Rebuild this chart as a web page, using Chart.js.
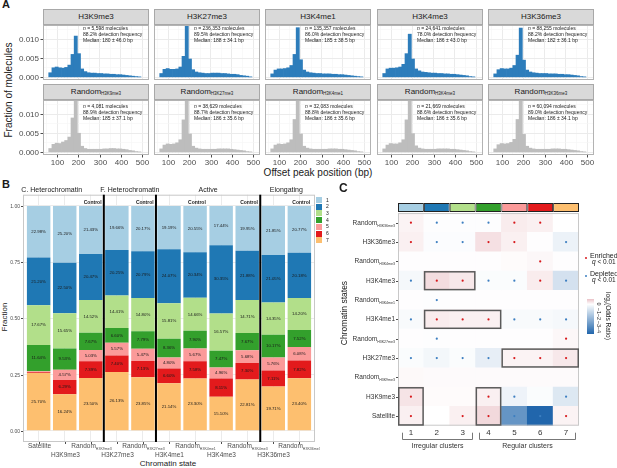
<!DOCTYPE html>
<html><head><meta charset="utf-8">
<script src="https://cdn.jsdelivr.net/npm/chart.js@4.4.1/dist/chart.umd.min.js"></script>
<style>
html,body{margin:0;padding:0}
body{width:617px;height:468px;position:relative;overflow:hidden;background:#fff;font-family:"Liberation Sans",Arial,sans-serif;color:#1a1a1a}
canvas{position:absolute}
.t{position:absolute;white-space:nowrap;line-height:1}
.strip{position:absolute;background:#d9d9d9;border:1px solid #a8a8a8;box-sizing:border-box;font-size:8px;color:#1a1a1a;text-align:center;line-height:14px;height:16px;width:106px}
.strip sub{font-size:4.5px;vertical-align:-1px;line-height:0}
.rot{transform:translate(-50%,-50%) rotate(-90deg)}
.rotc{transform:translate(-50%,-50%) rotate(90deg)}
.cen{transform:translate(-50%,-50%)}
.lab{font-weight:bold;font-size:12px}
</style></head><body>
<script>
// ================= PANEL A DATA =================
const binCenters=[67.5,82.5,97.5,112.5,127.5,142.5,157.5,172.5,187.5,202.5,217.5,232.5,247.5,262.5,277.5,292.5,307.5,322.5,337.5,352.5,367.5,382.5,397.5,412.5,427.5,442.5,457.5,472.5,487.5];
const histMarks=['H3K9me3','H3K27me3','H3K4me1','H3K4me3','H3K36me3'];
const histH3K9me3=[0.0012,0.0025,0.0027,0.0025,0.0024,0.0026,0.0032,0.0060,0.0108,0.0062,0.0022,0.0015,0.0012,0.0011,0.0011,0.0010,0.0010,0.0009,0.0009,0.0008,0.0008,0.0007,0.0007,0.0006,0.0005,0.0004,0.0003,0.0002,0.0001];
const histH3K27me3=[0.0010,0.0021,0.0023,0.0021,0.0021,0.0022,0.0027,0.0055,0.0135,0.0048,0.0020,0.0014,0.0012,0.0011,0.0010,0.0010,0.0011,0.0011,0.0011,0.0010,0.0010,0.0009,0.0008,0.0008,0.0007,0.0005,0.0004,0.0003,0.0001];
const histH3K4me1=[0.0009,0.0019,0.0022,0.0022,0.0023,0.0025,0.0031,0.0060,0.0130,0.0046,0.0019,0.0014,0.0012,0.0011,0.0010,0.0010,0.0009,0.0009,0.0009,0.0008,0.0008,0.0007,0.0007,0.0006,0.0005,0.0004,0.0003,0.0002,0.0001];
const histH3K4me3=[0.0010,0.0022,0.0024,0.0024,0.0025,0.0027,0.0034,0.0062,0.0113,0.0048,0.0022,0.0017,0.0014,0.0013,0.0012,0.0011,0.0011,0.0010,0.0010,0.0009,0.0009,0.0008,0.0008,0.0007,0.0006,0.0005,0.0004,0.0002,0.0001];
const histH3K36me3=[0.0009,0.0020,0.0023,0.0022,0.0022,0.0024,0.0031,0.0058,0.0129,0.0045,0.0019,0.0014,0.0012,0.0011,0.0010,0.0010,0.0010,0.0009,0.0009,0.0009,0.0008,0.0008,0.0007,0.0007,0.0006,0.0005,0.0004,0.0002,0.0001];
const randH3K9me3=[0.0010,0.0021,0.0024,0.0023,0.0027,0.0031,0.0040,0.0090,0.0142,0.0050,0.0016,0.0010,0.0008,0.0008,0.0008,0.0008,0.0008,0.0009,0.0009,0.0010,0.0010,0.0009,0.0009,0.0008,0.0007,0.0005,0.0004,0.0002,0.0001];
const randH3K27me3=[0.0009,0.0019,0.0022,0.0021,0.0022,0.0025,0.0033,0.0085,0.0145,0.0048,0.0016,0.0011,0.0009,0.0008,0.0008,0.0008,0.0008,0.0008,0.0009,0.0009,0.0009,0.0009,0.0008,0.0007,0.0006,0.0005,0.0004,0.0002,0.0001];
const randH3K4me1=[0.0009,0.0019,0.0022,0.0021,0.0022,0.0025,0.0033,0.0086,0.0145,0.0048,0.0016,0.0011,0.0009,0.0008,0.0008,0.0008,0.0008,0.0008,0.0009,0.0009,0.0009,0.0008,0.0008,0.0007,0.0006,0.0005,0.0004,0.0002,0.0001];
const randH3K4me3=[0.0009,0.0019,0.0023,0.0022,0.0022,0.0025,0.0033,0.0085,0.0144,0.0049,0.0017,0.0011,0.0009,0.0008,0.0008,0.0008,0.0008,0.0009,0.0009,0.0009,0.0009,0.0008,0.0008,0.0007,0.0006,0.0005,0.0004,0.0002,0.0001];
const randH3K36me3=[0.0009,0.0020,0.0023,0.0022,0.0023,0.0026,0.0034,0.0086,0.0145,0.0047,0.0016,0.0011,0.0009,0.0008,0.0008,0.0008,0.0008,0.0008,0.0009,0.0009,0.0009,0.0008,0.0008,0.0007,0.0006,0.0005,0.0004,0.0002,0.0001];
const markCounts=['5,598','236,353','135,357','24,641','88,255'];
const markDetection=['88.2','89.5','86.0','78.0','88.2'];
const markMedian=['180 ± 46.0','188 ± 34.1','185 ± 38.5','186 ± 43.0','182 ± 36.1'];
const randCounts=['4,081','38,629','32,083','21,669','60,094'];
const randDetection=['88.9','88.7','88.8','88.6','89.0'];
const randMedian=['185 ± 37.1','186 ± 35.6','186 ± 35.6','186 ± 35.6','186 ± 34.1'];
const histXTicks=[100,200,300,400,500];
const histXMinor=[50,150,250,350,450];
const histYTicks=[0,0.005,0.010];
const histYMinor=[0.0025,0.0075,0.0125];

// ================= PANEL B DATA =================
const stateCategories=['Satellite','H3K9me3','Random_H3K9me3','H3K27me3','Random_H3K27me3','H3K4me1','Random_H3K4me1','H3K4me3','Random_H3K4me3','H3K36me3','Random_H3K36me3'];
const stateNames=['1','2','3','4','5','6','7'];
const stateColors=['#a6cee3','#1f78b4','#b2df8a','#33a02c','#fb9a99','#e31a1c','#fdbf6f'];
const state1=[22.98,25.20,21.43,19.66,20.17,19.19,20.55,17.44,19.95,21.85,20.77];
const state2=[21.20,22.50,20.47,20.25,20.79,24.07,20.34,30.35,21.88,21.05,20.18];
const state3=[17.67,15.65,14.52,14.41,14.80,15.81,14.66,16.57,14.71,14.35,14.20];
const state4=[11.64,9.53,7.67,6.60,7.79,8.36,7.90,7.47,7.67,10.17,7.52];
const state5=[0.46,4.57,5.03,5.57,5.47,4.80,5.67,4.96,5.68,5.76,6.08];
const state6=[0.35,6.29,7.39,7.40,7.13,6.60,7.58,8.11,7.30,7.11,7.82];
const state7=[25.70,16.24,23.50,26.13,23.85,21.14,23.30,15.10,22.81,19.71,23.40];
const fractionTicks=[0,0.25,0.50,0.75,1.00];
const groupLabels=['C. Heterochromatin','F. Heterochromatin','Active','Elongating'];
const groupLabelPos=[0.5,3.5,6.5,9.5];
const groupBreaks=[2.5,4.5,8.5];
const controlIndex=[2,4,6,8,10];

// ================= PANEL C DATA =================
const clusterIds=[1,2,3,4,5,6,7];
const heatRows=['Satellite','H3K9me3','Random_H3K9me3','H3K27me3','Random_H3K27me3','H3K4me1','Random_H3K4me1','H3K4me3','Random_H3K4me3','H3K36me3','Random_H3K36me3'];
const orSatellite=[0.2,0.0,0.2,0.5,-3.2,-4.6,0.15];
const orH3K9me3=[0.35,0.05,0.05,0.2,-0.35,-0.1,-0.7];
const orRandomH3K9me3=[0.08,0.06,0.06,0.06,0.06,0.06,0.06];
const orH3K27me3=[-0.1,-0.25,-0.1,-0.5,0.15,0.15,0.3];
const orRandomH3K27me3=[0.02,-0.05,0.02,0.02,0.02,0.02,0.1];
const orH3K4me1=[-0.15,0.25,0.2,0.2,-0.15,-0.15,-0.2];
const orRandomH3K4me1=[0.02,-0.05,0.02,0.02,0.02,0.02,0.02];
const orH3K4me3=[-0.2,0.45,0.3,-0.1,-0.1,0.25,-0.9];
const orRandomH3K4me3=[0.02,0.02,0.02,0.02,0.05,0.1,0.02];
const orH3K36me3=[0.2,-0.08,-0.08,0.4,0.2,0.02,-0.4];
const orRandomH3K36me3=[0.15,-0.05,-0.05,-0.05,0.25,0.2,0.0];
const sigSatellite=['+','','+','+','-','-','+'];
const sigH3K9me3=['+','','','+','-','','-'];
const sigRandomH3K9me3=['','','','','','',''];
const sigH3K27me3=['-','-','-','-','+','+','+'];
const sigRandomH3K27me3=['','-','','','','','+'];
const sigH3K4me1=['-','+','+','+','-','-','-'];
const sigRandomH3K4me1=['','-','','','','',''];
const sigH3K4me3=['-','+','+','-','-','+','-'];
const sigRandomH3K4me3=['','','','','','+',''];
const sigH3K36me3=['+','-','-','+','+','','-'];
const sigRandomH3K36me3=['+','-','-','-','+','+',''];
const boxRowFrom=['H3K4me3','H3K4me1','H3K27me3','Satellite','Satellite'];
const boxRowTo=['H3K4me3','H3K4me1','H3K27me3','H3K9me3','H3K9me3'];
const boxColFrom=[2,2,5,1,4];
const boxColTo=[3,4,7,1,4];
const clusterGroups=['Irregular clusters','Regular clusters'];
const clusterGroupFrom=[1,4];
const clusterGroupTo=[3,7];
const colorbarTicks=[0,-1,-2,-3,-4];

// ================= HELPERS =================
const FONT='"Liberation Sans", Arial, sans-serif';
function addText(html, x, y, cls, style){const d=document.createElement('div');d.className='t '+(cls||'');d.innerHTML=html;d.style.left=x+'px';d.style.top=y+'px';if(style)d.setAttribute('style',d.getAttribute('style')+';'+style);document.body.appendChild(d);return d;}
function makeCanvas(left,top,w,h){const c=document.createElement('canvas');c.width=w;c.height=h;c.style.left=left+'px';c.style.top=top+'px';c.style.width=w+'px';c.style.height=h+'px';document.body.appendChild(c);return c;}
function drawSubLabel(ctx,label,x,y,size,align,color){
  const parts=label.split('_');const main=parts[0],sub=parts[1]||'';
  ctx.fillStyle=color;ctx.textBaseline='middle';ctx.textAlign='left';
  ctx.font=size+'px '+FONT;const w1=ctx.measureText(main).width;
  const ss=size*0.55;ctx.font=ss+'px '+FONT;const w2=sub?ctx.measureText(sub).width:0;
  let x0=align==='right'?x-w1-w2:align==='center'?x-(w1+w2)/2:x;
  ctx.font=size+'px '+FONT;ctx.fillText(main,x0,y);
  if(sub){ctx.font=ss+'px '+FONT;ctx.fillText(sub,x0+w1,y+size*0.38);}
}
function heatColor(v){
  const neg=[33,102,172],pos=[178,24,43];let t,c;
  if(v<0){t=Math.min(-v/4.6,1);c=neg;}else{t=Math.min(v/3,1);c=pos;}
  return 'rgb('+c.map(k=>Math.round(255+(k-255)*t)).join(',')+')';
}

// ================= PANEL A =================
addText('A',2,-1,'lab','font-size:11px');
addText('Fraction of molecules',9,90,'rot','font-size:10px');
addText('Offset peak position (bp)',318,173,'cen','font-size:10px');
const panelLefts=[43,154,265,377,488];
const stripTops=[9,84];
const panelTops=[25,100];
const markHists=[histH3K9me3,histH3K27me3,histH3K4me1,histH3K4me3,histH3K36me3];
const randHists=[randH3K9me3,randH3K27me3,randH3K4me1,randH3K4me3,randH3K36me3];

function histChart(col,row){
  const padL=col===0?36:0,padB=row===1?14:0,W=106,H=55;
  const vals=row===0?markHists[col]:randHists[col];
  const color=row===0?'#2d7dbb':'#bdbdbd';
  const count=row===0?markCounts[col]:randCounts[col];
  const det=row===0?markDetection[col]:randDetection[col];
  const med=row===0?markMedian[col]:randMedian[col];
  const cv=makeCanvas(panelLefts[col]-padL,panelTops[row],W+padL,H+padB);
  const deco={id:'deco'+col+row,afterDraw(chart){
    const {ctx,chartArea:a,scales:{x,y}}=chart;ctx.save();
    ctx.strokeStyle='#b3b3b3';ctx.lineWidth=1;ctx.strokeRect(a.left+0.5,a.top+0.5,a.right-a.left-1,a.bottom-a.top-1);
    ctx.fillStyle='#4d4d4d';ctx.strokeStyle='#4d4d4d';ctx.font='8px '+FONT;
    if(col===0){ctx.textAlign='right';ctx.textBaseline='middle';
      histYTicks.forEach(v=>{const py=Math.round(y.getPixelForValue(v))+0.5;ctx.fillText(v.toFixed(3),a.left-4,py);ctx.beginPath();ctx.moveTo(a.left-2.5,py);ctx.lineTo(a.left,py);ctx.stroke();});}
    if(row===1){ctx.textAlign='center';ctx.textBaseline='middle';
      histXTicks.forEach(v=>{const px=Math.round(x.getPixelForValue(v))+0.5;ctx.fillText(String(v),px,a.bottom+7.5);ctx.beginPath();ctx.moveTo(px,a.bottom);ctx.lineTo(px,a.bottom+2.5);ctx.stroke();});}
    ctx.fillStyle='#1a1a1a';ctx.textAlign='left';ctx.textBaseline='middle';
    const ax=a.left+40,ay=a.top+(row===0?3.5:6.5);
    ctx.font='italic 5px '+FONT;ctx.fillText('n',ax,ay);const wn=ctx.measureText('n').width;
    ctx.font='5px '+FONT;ctx.fillText(' = '+count+' molecules',ax+wn,ay);
    ctx.fillText(det+'% detection frequency',ax,ay+6);
    ctx.fillText('Median: '+med+' bp',ax,ay+12);
    ctx.restore();}};
  new Chart(cv,{type:'bar',
    data:{datasets:[{data:binCenters.map((b,i)=>({x:b,y:vals[i]})),backgroundColor:color,barPercentage:1,categoryPercentage:1,borderWidth:0}]},
    options:{responsive:false,animation:false,events:[],
      layout:{padding:{left:padL,bottom:padB,top:0,right:0}},
      plugins:{legend:{display:false},tooltip:{enabled:false}},
      scales:{
        x:{type:'linear',min:33,max:533,offset:false,ticks:{display:false},border:{display:false},
          grid:{offset:false,drawTicks:false,color:c=>(c.tick&&c.tick.value%100===0)?'#ebebeb':'#f5f5f5',lineWidth:c=>(c.tick&&c.tick.value%100===0)?1:0.6},
          afterBuildTicks:s=>{s.ticks=histXMinor.concat(histXTicks).map(v=>({value:v}));},afterFit:s=>{s.height=0;}},
        y:{type:'linear',min:-0.0007,max:0.0137,ticks:{display:false},border:{display:false},
          grid:{drawTicks:false,color:c=>(c.tick&&histYTicks.some(t=>Math.abs(t-c.tick.value)<1e-9))?'#ebebeb':'#f5f5f5',lineWidth:c=>(c.tick&&histYTicks.some(t=>Math.abs(t-c.tick.value)<1e-9))?1:0.6},
          afterBuildTicks:s=>{s.ticks=histYTicks.concat(histYMinor).map(v=>({value:v}));},afterFit:s=>{s.width=0;}}
      }},
    plugins:[deco]});
}
for(let r=0;r<2;r++)for(let c=0;c<5;c++){
  const s=document.createElement('div');s.className='strip';s.style.left=panelLefts[c]+'px';s.style.top=stripTops[r]+'px';
  s.innerHTML=r===0?histMarks[c]:'Random<sub>'+histMarks[c]+'</sub>';document.body.appendChild(s);
  histChart(c,r);
}

// ================= PANEL B =================
addText('B',2,179,'lab','font-size:11px');
addText('Fraction',5,317,'rot','font-size:8px');
addText('Chromatin state',168,464,'cen','font-size:8px');
const stateSeries=[state1,state2,state3,state4,state5,state6,state7];
const bDatasets=[6,5,4,3,2,1,0].map(k=>({label:stateNames[k],data:stateCategories.map((c,i)=>({x:i,y:stateSeries[k][i]/100})),backgroundColor:stateColors[k],barPercentage:0.9,categoryPercentage:1,borderWidth:0}));
const cvB=makeCanvas(0,183,320,285);
const decoB={id:'decoB',
  afterDatasetsDraw(chart){
    const {ctx}=chart;ctx.save();ctx.font='4.3px '+FONT;ctx.fillStyle='#1a1a1a';ctx.textAlign='center';ctx.textBaseline='middle';
    chart.data.datasets.forEach((ds,di)=>{const meta=chart.getDatasetMeta(di);
      meta.data.forEach((el,i)=>{const v=ds.data[i].y*100;if(v>=1)ctx.fillText(v.toFixed(2)+'%',el.x,(el.y+el.base)/2);});});
    ctx.restore();},
  afterDraw(chart){
    const {ctx,chartArea:a,scales:{x,y}}=chart;ctx.save();
    ctx.strokeStyle='#c8c8c8';ctx.lineWidth=1;ctx.strokeRect(a.left+0.5,a.top+0.5,a.right-a.left-1,a.bottom-a.top-1);
    ctx.strokeStyle='#000';ctx.lineWidth=2;
    groupBreaks.forEach(g=>{const px=x.getPixelForValue(g);ctx.beginPath();ctx.moveTo(px,a.top);ctx.lineTo(px,a.bottom);ctx.stroke();});
    ctx.fillStyle='#1a1a1a';ctx.font='7px '+FONT;ctx.textAlign='center';ctx.textBaseline='middle';
    groupLabels.forEach((g,i)=>ctx.fillText(g,x.getPixelForValue(groupLabelPos[i]),a.top-4.5));
    ctx.font='bold 5px '+FONT;ctx.textAlign='right';
    controlIndex.forEach(i=>ctx.fillText('Control',x.getPixelForValue(i+0.45)-1,a.top+8));
    ctx.fillStyle='#4d4d4d';ctx.strokeStyle='#4d4d4d';ctx.lineWidth=1;ctx.font='5px '+FONT;ctx.textAlign='right';
    fractionTicks.forEach(v=>{const py=Math.round(y.getPixelForValue(v))+0.5;ctx.fillText(v.toFixed(2),a.left-3,py);ctx.beginPath();ctx.moveTo(a.left-2,py);ctx.lineTo(a.left,py);ctx.stroke();});
    stateCategories.forEach((c,i)=>{const px=Math.round(x.getPixelForValue(i))+0.5;ctx.beginPath();ctx.moveTo(px,a.bottom);ctx.lineTo(px,a.bottom+2);ctx.stroke();
      drawSubLabel(ctx,c,px,a.bottom+(i%2===0?4.5:13.5),6.5,'center','#4d4d4d');});
    ctx.restore();}};
new Chart(cvB,{type:'bar',data:{datasets:bDatasets},
  options:{responsive:false,animation:false,events:[],
    layout:{padding:{left:23,right:5,top:11.7,bottom:26}},
    plugins:{legend:{display:false},tooltip:{enabled:false}},
    scales:{
      x:{type:'linear',stacked:true,min:-0.6,max:10.6,offset:false,ticks:{display:false},border:{display:false},
        grid:{offset:false,drawTicks:false,color:'#ebebeb'},afterBuildTicks:s=>{s.ticks=stateCategories.map((c,i)=>({value:i}));},afterFit:s=>{s.height=0;}},
      y:{type:'linear',stacked:true,min:-0.05,max:1.05,ticks:{display:false},border:{display:false},
        grid:{drawTicks:false,color:'#ebebeb'},afterBuildTicks:s=>{s.ticks=fractionTicks.map(v=>({value:v}));},afterFit:s=>{s.width=0;}}
    }},plugins:[decoB]});
// legend B
stateNames.forEach((n,k)=>{
  const sq=document.createElement('div');sq.style.cssText='position:absolute;left:316px;top:'+(197+k*6.7)+'px;width:6px;height:6px;background:'+stateColors[k];document.body.appendChild(sq);
  addText(n,326,197+k*6.7+0.5,'','font-size:5px');
});

// ================= PANEL C =================
addText('C',339,182,'lab');
addText('Chromatin states',344,313,'rot','font-size:8.5px');
const heatOR=[orSatellite,orH3K9me3,orRandomH3K9me3,orH3K27me3,orRandomH3K27me3,orH3K4me1,orRandomH3K4me1,orH3K4me3,orRandomH3K4me3,orH3K36me3,orRandomH3K36me3];
const heatSig=[sigSatellite,sigH3K9me3,sigRandomH3K9me3,sigH3K27me3,sigRandomH3K27me3,sigH3K4me1,sigRandomH3K4me1,sigH3K4me3,sigRandomH3K4me3,sigH3K36me3,sigRandomH3K36me3];
const heatDatasets=heatRows.map((r,i)=>({type:'bar',order:2,grouped:false,barPercentage:1,categoryPercentage:1,borderWidth:0,
  data:clusterIds.map(c=>({x:c,y:[i-0.5,i+0.5]})),backgroundColor:heatOR[i].map(heatColor)}));
const stripDataset={type:'bar',order:2,grouped:false,barPercentage:1,categoryPercentage:1,borderColor:'#222',borderWidth:1,borderSkipped:false,inflateAmount:0,
  data:clusterIds.map(c=>({x:c,y:[10.55,11.02]})),backgroundColor:stateColors};
const dots=[];heatRows.forEach((r,i)=>heatSig[i].forEach((s,j)=>{if(s)dots.push({x:clusterIds[j],y:i,s:s});}));
const dotDataset={type:'scatter',order:0,data:dots,pointRadius:1.1,pointBorderWidth:0,pointBackgroundColor:dots.map(d=>d.s==='+'?'#d7191c':'#3d7fc1')};
const cvC=makeCanvas(320,195,297,265);
const decoC={id:'decoC',afterDraw(chart){
  const {ctx,chartArea:a,scales:{x,y}}=chart;ctx.save();
  const top=y.getPixelForValue(10.5),bot=y.getPixelForValue(-0.5),lft=x.getPixelForValue(0.5),rgt=x.getPixelForValue(7.5);
  ctx.strokeStyle='#c8c8c8';ctx.lineWidth=1;ctx.strokeRect(lft+0.5,top+0.5,rgt-lft-1,bot-top-1);
  ctx.strokeStyle='#5a5a5a';ctx.lineWidth=1.5;
  boxRowFrom.forEach((rf,k)=>{const r0=heatRows.indexOf(rf),r1=heatRows.indexOf(boxRowTo[k]);
    const x0=x.getPixelForValue(boxColFrom[k]-0.5),x1=x.getPixelForValue(boxColTo[k]+0.5);
    const y0=y.getPixelForValue(r1+0.5),y1=y.getPixelForValue(r0-0.5);
    ctx.strokeRect(x0+0.75,y0+0.75,x1-x0-1.5,y1-y0-1.5);});
  ctx.strokeStyle='#4d4d4d';ctx.lineWidth=1;
  heatRows.forEach((r,i)=>{const py=Math.round(y.getPixelForValue(i))+0.5;ctx.beginPath();ctx.moveTo(lft-2,py);ctx.lineTo(lft,py);ctx.stroke();
    drawSubLabel(ctx,r,lft-3,py,6.5,'right','#333');});
  ctx.fillStyle='#333';ctx.font='8px '+FONT;ctx.textAlign='center';ctx.textBaseline='middle';
  clusterIds.forEach(c=>ctx.fillText(String(c),x.getPixelForValue(c),bot+7.5));
  ctx.strokeStyle='#777';ctx.lineWidth=1;ctx.font='7px '+FONT;
  clusterGroups.forEach((g,k)=>{const x0=Math.round(x.getPixelForValue(clusterGroupFrom[k]-0.35))+0.5,x1=Math.round(x.getPixelForValue(clusterGroupTo[k]+0.35))+0.5;
    const yb=Math.round(bot+13)+0.5;ctx.beginPath();ctx.moveTo(x0,bot+7);ctx.lineTo(x0,yb);ctx.lineTo(x1,yb);ctx.lineTo(x1,bot+7);ctx.stroke();
    ctx.fillText(g,(x0+x1)/2,bot+20.5);});
  ctx.restore();}};
new Chart(cvC,{type:'bar',data:{datasets:[dotDataset,stripDataset].concat(heatDatasets)},
  options:{responsive:false,animation:false,events:[],
    layout:{padding:{left:78,right:38,top:8,bottom:34.3}},
    plugins:{legend:{display:false},tooltip:{enabled:false}},
    scales:{x:{type:'linear',min:0.5,max:7.5,offset:false,display:false,grid:{offset:false}},
            y:{type:'linear',min:-0.5,max:11.02,display:false}}},
  plugins:[decoC]});
// legend C: significance
[['Enriched','#d7191c',255],['Depleted','#3d7fc1',273]].forEach(([lbl,col,yy])=>{
  const d=document.createElement('div');d.style.cssText='position:absolute;left:585px;top:'+(yy+2)+'px;width:2.4px;height:2.4px;border-radius:50%;background:'+col;document.body.appendChild(d);
  addText(lbl,590,yy-3.5,'','font-size:7px');
  addText('<i>q</i> &lt; 0.01',592,yy+3.5,'','font-size:6.5px');
});
// colorbar
(function(){
  const vTop=0.8,vBot=-4.6,y0=299,h=35;
  const stops=[];for(let k=0;k<=20;k++){const v=vTop+(vBot-vTop)*k/20;stops.push(heatColor(v)+' '+(k*5)+'%');}
  const cb=document.createElement('div');cb.style.cssText='position:absolute;left:587px;top:'+y0+'px;width:7px;height:'+h+'px;background:linear-gradient(to bottom,'+stops.join(',')+')';document.body.appendChild(cb);
  colorbarTicks.forEach(v=>{const py=y0+(vTop-v)/(vTop-vBot)*h;addText(v===0?'0':'\u2212'+Math.abs(v),597.5,py,'rotc','font-size:5.5px');});
  addText('log<sub style="font-size:4px">2</sub>(Odds Ratio)',607,316,'rotc','font-size:6.5px');
})();
</script></body></html>
